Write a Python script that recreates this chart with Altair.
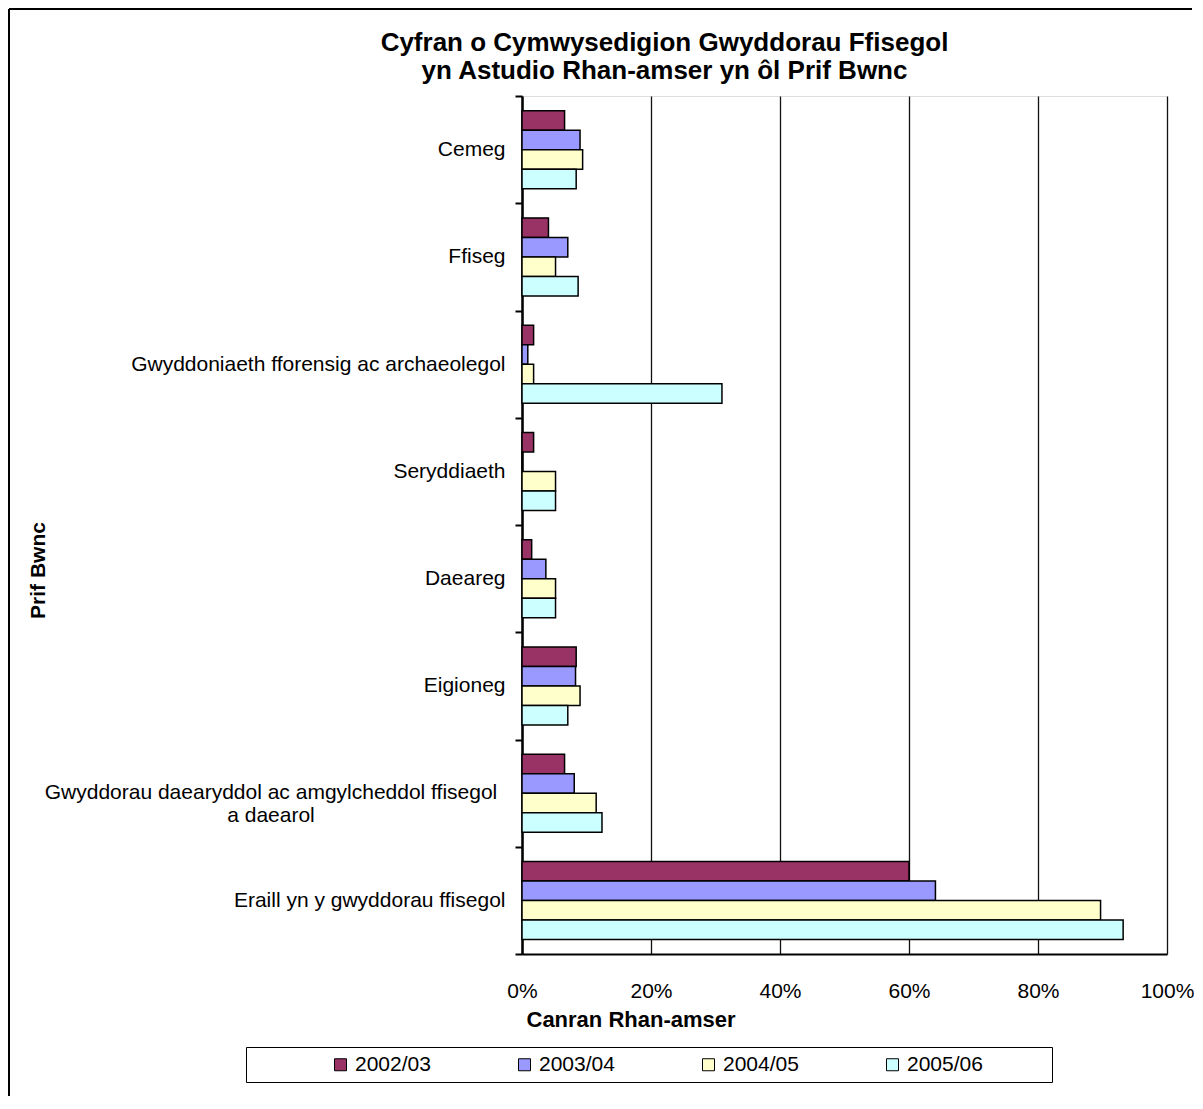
import altair as alt
import pandas as pd

categories = [
    "Cemeg",
    "Ffiseg",
    "Gwyddoniaeth fforensig ac archaeolegol",
    "Seryddiaeth",
    "Daeareg",
    "Eigioneg",
    "Gwyddorau daearyddol ac amgylcheddol ffisegol a daearol",
    "Eraill yn y gwyddorau ffisegol",
]
years = ["2002/03", "2003/04", "2004/05", "2005/06"]
v_2002_03 = [6.6, 4.1, 1.8, 1.8, 1.5, 8.4, 6.6, 60.0]
v_2003_04 = [9.0, 7.1, 0.9, 0.0, 3.7, 8.3, 8.1, 64.1]
v_2004_05 = [9.4, 5.2, 1.8, 5.2, 5.2, 9.0, 11.5, 89.7]
v_2005_06 = [8.4, 8.7, 31.0, 5.2, 5.2, 7.1, 12.4, 93.2]
colors = ["#993366", "#9999FF", "#FFFFCC", "#CCFFFF"]
x_ticks = [0, 20, 40, 60, 80, 100]

series = [v_2002_03, v_2003_04, v_2004_05, v_2005_06]
rows = []
for y, vals in zip(years, series):
    for c, v in zip(categories, vals):
        rows.append({"Prif Bwnc": c, "Blwyddyn": y, "Canran": v})
df = pd.DataFrame(rows)

LONG = categories[6]
FONT = "Liberation Sans"
NB = "\u00a0"
BLANK = "\u2800"  # blank glyph, not trimmed as whitespace

bars = alt.Chart(df).mark_bar(stroke="black", strokeWidth=1.5).encode(
    x=alt.X(
        "Canran:Q",
        scale=alt.Scale(domain=[0, 100], nice=False),
        axis=alt.Axis(
            values=x_ticks,
            labelExpr="datum.value + '%'",
            labelFlush=False,
            title="Canran Rhan-amser",
            titleAnchor="start",
            titleAlign="left",
            titleX=4,
            titlePadding=8,
            titleFontSize=22,
            titleFontWeight="bold",
            titleFont=FONT,
            labelFont=FONT,
            labelFontSize=21,
            labelColor="black",
            titleColor="black",
            labelPadding=26,
            tickSize=0,
            grid=True,
            gridColor="#111111",
            gridWidth=1.3,
            domainColor="black",
            domainWidth=2,
        ),
    ),
    y=alt.Y(
        "Prif Bwnc:N",
        sort=categories,
        scale=alt.Scale(paddingInner=0, paddingOuter=0),
        axis=alt.Axis(
            title="Prif Bwnc",
            titleFont=FONT,
            titleFontSize=21,
            titleFontWeight="bold",
            titleColor="black",
            titleX=-484,
            titleY=474,
            titleAngle=270,
            titleAlign="center",
            titleBaseline="middle",
            labelFont=FONT,
            labelFontSize=21,
            labelColor="black",
            labelPadding=10,
            labelLimit=600,
            labelExpr="datum.value == '" + LONG + "' ? '' : datum.label",
            tickBand="extent",
            tickSize=7,
            tickWidth=2,
            tickColor="black",
            domainColor="black",
            domainWidth=2.5,
            grid=False,
        ),
    ),
    yOffset=alt.YOffset(
        "Blwyddyn:N",
        sort=years,
        scale=alt.Scale(paddingInner=0, paddingOuter=0.75),
    ),
    color=alt.Color(
        "Blwyddyn:N",
        sort=years,
        scale=alt.Scale(domain=years, range=colors),
        legend=alt.Legend(
            title=BLANK + NB * 8 + BLANK,
            titleOrient="left",
            titlePadding=0,
            titleFontSize=21,
            titleFont=FONT,
            orient="none",
            legendX=-276,
            legendY=951,
            direction="horizontal",
            columns=4,
            symbolType="square",
            symbolSize=144,
            symbolStrokeColor="black",
            symbolStrokeWidth=1,
            symbolOpacity=1,
            labelFont=FONT,
            labelFontSize=21,
            labelColor="black",
            labelOffset=4,
            labelLimit=400,
            labelExpr="datum.label + '" + NB * 8 + BLANK + "'",
            columnPadding=21,
            padding=7,
            strokeColor="black",
            fillColor="white",
        ),
    ),
)

long_label = alt.Chart(pd.DataFrame({"Prif Bwnc": [LONG]})).mark_text(
    align="center",
    baseline="middle",
    font=FONT,
    fontSize=21,
    color="black",
    lineBreak="|",
    lineHeight=23,
).encode(
    y=alt.Y("Prif Bwnc:N", sort=categories),
    x=alt.value(-251),
    text=alt.value("Gwyddorau daearyddol ac amgylcheddol ffisegol|a daearol"),
)

frame_df = pd.DataFrame({"k": [0]})
frame_left = alt.Chart(frame_df).mark_rule(color="black", strokeWidth=2).encode(
    x=alt.value(-513), y=alt.value(-87), y2=alt.value(1000)
)
frame_top = alt.Chart(frame_df).mark_rule(color="black", strokeWidth=2).encode(
    x=alt.value(-513), x2=alt.value(670), y=alt.value(-87)
)

chart = (
    alt.layer(bars, long_label, frame_left, frame_top)
    .properties(
        width=645,
        height=858,
        padding=0,
        title=alt.TitleParams(
            text=["Cyfran  o Cymwysedigion  Gwyddorau  Ffisegol",
                  "yn Astudio Rhan-amser  yn ôl Prif Bwnc"],
            font=FONT,
            fontSize=26,
            fontWeight="bold",
            color="black",
            anchor="middle",
            frame="group",
            dx=-180,
            offset=-76,
            lineHeight=28,
        ),
    )
    .configure_view(stroke="black", strokeWidth=1)
    .configure(background="white")
)

chart.save("out.html", embed_options={"renderer": "svg", "actions": False})
